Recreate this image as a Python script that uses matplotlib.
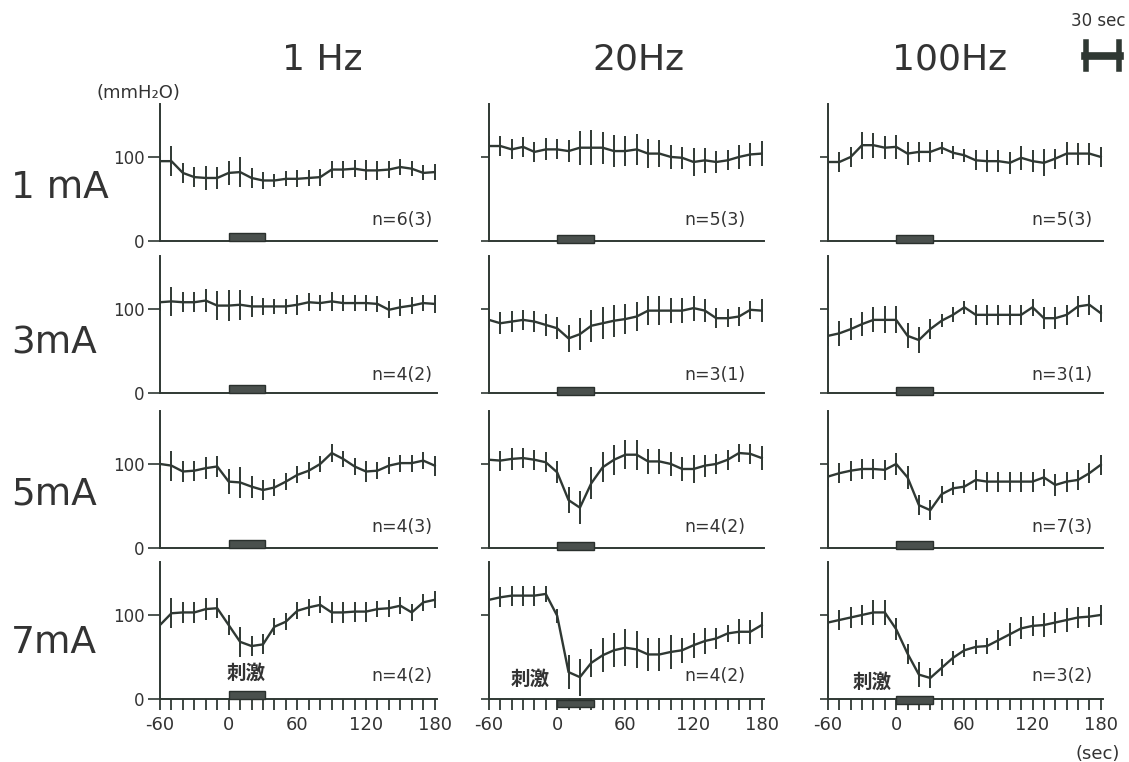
"""
Pressao (mmH2O) durante estimulacao: 4 correntes x 3 frequencias.
Media +- erro a cada 10 s, barra preta = periodo de estimulo (0-30 s).
"""

import matplotlib
matplotlib.use("Agg")
import matplotlib.pyplot as plt
from matplotlib.patches import Rectangle
from matplotlib.lines import Line2D

plt.rcParams["font.family"] = ["DejaVu Sans", "Noto Sans CJK JP"]
plt.rcParams["axes.unicode_minus"] = False

COR = "#2f3833"

tempo = [-60, -50, -40, -30, -20, -10, 0, 10, 20, 30, 40, 50, 60,
         70, 80, 90, 100, 110, 120, 130, 140, 150, 160, 170, 180]

frequencias = ["1 Hz", "20Hz", "100Hz"]
correntes = ["1 mA", "3mA", "5mA", "7mA"]
n_amostras = [["n=6(3)", "n=5(3)", "n=5(3)"],
              ["n=4(2)", "n=3(1)", "n=3(1)"],
              ["n=4(3)", "n=4(2)", "n=7(3)"],
              ["n=4(2)", "n=4(2)", "n=3(2)"]]

# 1 mA
m_1mA_1Hz = [95, 95, 81, 76, 75, 75, 81, 82, 75, 72, 72, 74, 74,
             75, 76, 85, 85, 86, 84, 84, 85, 88, 86, 81, 82]
e_1mA_1Hz = [10, 18, 12, 12, 14, 13, 14, 18, 12, 10, 8, 9, 10,
             10, 10, 10, 10, 10, 12, 11, 10, 10, 9, 9, 10]
m_1mA_20Hz = [113, 113, 109, 112, 106, 109, 109, 107, 111, 111, 111, 107, 107,
              109, 104, 104, 100, 99, 94, 96, 94, 96, 100, 103, 104]
e_1mA_20Hz = [12, 12, 12, 12, 12, 13, 12, 13, 20, 21, 19, 19, 18,
              18, 17, 16, 14, 13, 17, 15, 13, 12, 14, 14, 15]
m_1mA_100Hz = [94, 94, 100, 114, 114, 111, 112, 104, 106, 106, 111, 105, 102,
               96, 95, 95, 93, 99, 95, 93, 98, 104, 104, 104, 100]
e_1mA_100Hz = [8, 12, 12, 16, 15, 14, 14, 14, 12, 12, 7, 8, 8,
               12, 13, 13, 13, 14, 13, 16, 12, 14, 13, 13, 12]

# 3 mA
m_3mA_1Hz = [108, 109, 108, 108, 110, 104, 104, 105, 103, 103, 103, 103, 105,
             108, 107, 109, 107, 107, 107, 106, 99, 102, 104, 107, 106]
e_3mA_1Hz = [10, 17, 12, 12, 14, 17, 18, 18, 12, 10, 9, 9, 12,
             11, 10, 11, 10, 10, 10, 10, 10, 10, 10, 10, 11]
m_3mA_20Hz = [87, 83, 85, 87, 85, 81, 77, 65, 70, 80, 83, 86, 88,
              91, 98, 98, 98, 98, 101, 98, 89, 89, 91, 99, 98]
e_3mA_20Hz = [10, 13, 12, 12, 12, 13, 13, 16, 19, 19, 19, 19, 18,
              17, 17, 17, 15, 15, 15, 14, 12, 11, 11, 11, 14]
m_3mA_100Hz = [68, 71, 76, 82, 87, 87, 87, 68, 63, 76, 86, 93, 102,
               93, 93, 93, 93, 93, 102, 89, 89, 93, 103, 105, 95]
e_3mA_100Hz = [12, 15, 13, 14, 15, 16, 16, 15, 15, 12, 8, 9, 8,
               12, 12, 12, 12, 12, 10, 13, 13, 12, 12, 12, 10]

# 5 mA
m_5mA_1Hz = [100, 98, 91, 92, 95, 97, 79, 78, 73, 69, 72, 79, 87,
             92, 100, 113, 106, 97, 91, 92, 98, 101, 101, 104, 98]
e_5mA_1Hz = [10, 18, 12, 12, 13, 13, 15, 18, 13, 12, 10, 10, 10,
             10, 10, 11, 10, 10, 13, 10, 10, 10, 10, 10, 12]
m_5mA_20Hz = [105, 104, 106, 107, 105, 102, 90, 57, 48, 77, 96, 105, 111,
              111, 103, 103, 100, 94, 94, 98, 100, 105, 113, 112, 107]
e_5mA_20Hz = [8, 12, 13, 12, 12, 12, 13, 15, 20, 19, 18, 18, 17,
              18, 15, 15, 14, 14, 17, 13, 12, 12, 11, 12, 14]
m_5mA_100Hz = [85, 89, 92, 94, 94, 93, 100, 84, 51, 45, 64, 71, 73,
               81, 79, 79, 79, 79, 79, 84, 75, 79, 81, 89, 99]
e_5mA_100Hz = [12, 12, 12, 12, 12, 12, 13, 14, 12, 12, 10, 8, 8,
               12, 12, 12, 12, 12, 12, 10, 13, 12, 12, 12, 12]

# 7 mA
m_7mA_1Hz = [88, 102, 103, 103, 107, 108, 88, 68, 63, 65, 86, 92, 105,
             109, 112, 103, 103, 104, 104, 107, 108, 111, 103, 115, 118]
e_7mA_1Hz = [18, 18, 12, 12, 13, 12, 12, 18, 12, 12, 10, 10, 10,
             10, 10, 12, 12, 12, 12, 10, 10, 10, 10, 10, 10]
m_7mA_20Hz = [118, 121, 123, 123, 123, 125, 99, 32, 26, 43, 52, 58, 61,
              59, 53, 53, 56, 58, 64, 69, 72, 78, 80, 80, 88]
e_7mA_20Hz = [10, 12, 12, 12, 12, 10, 8, 20, 22, 17, 20, 20, 22,
              22, 20, 20, 20, 15, 15, 15, 12, 10, 15, 14, 15]
m_7mA_100Hz = [91, 94, 97, 100, 103, 103, 83, 54, 29, 25, 37, 49, 58,
               62, 63, 70, 77, 84, 87, 88, 91, 94, 97, 98, 100]
e_7mA_100Hz = [8, 12, 12, 12, 15, 15, 13, 12, 15, 12, 10, 8, 8,
               8, 10, 12, 14, 13, 12, 14, 12, 14, 12, 12, 12]

medias = [[m_1mA_1Hz, m_1mA_20Hz, m_1mA_100Hz],
          [m_3mA_1Hz, m_3mA_20Hz, m_3mA_100Hz],
          [m_5mA_1Hz, m_5mA_20Hz, m_5mA_100Hz],
          [m_7mA_1Hz, m_7mA_20Hz, m_7mA_100Hz]]
erros = [[e_1mA_1Hz, e_1mA_20Hz, e_1mA_100Hz],
         [e_3mA_1Hz, e_3mA_20Hz, e_3mA_100Hz],
         [e_5mA_1Hz, e_5mA_20Hz, e_5mA_100Hz],
         [e_7mA_1Hz, e_7mA_20Hz, e_7mA_100Hz]]

# posicoes em pixel da figura original (1129x762)
W, H = 1129, 762
col_x0 = [160, 489, 828]
col_w = [277, 275, 275]
lin_y0 = [241, 393, 548, 699]
alt = 137
# base vertical da barra de estimulo em cada painel
base_barra = [[0, -2, -2], [0, -2, -2], [0, -2, -1], [0, -10, -6]]
n_x = [178, 166, 173]
n_y = [25, 21, 25, 27]
estimulo_pos = [(15, 31), (-24, 23), (-21, 20)]


def painel(ax, i, j):
    ax.errorbar(tempo, medias[i][j], yerr=erros[i][j], color=COR, lw=1.7,
                elinewidth=1.4, capsize=0, zorder=3)
    ax.add_patch(Rectangle((0, base_barra[i][j]), 32, 9, facecolor="#4a504d",
                           edgecolor="#2a302d", lw=1, clip_on=False, zorder=4))
    ax.set_xlim(-60, 182)
    ax.set_ylim(0, 163)
    for s in ("top", "right"):
        ax.spines[s].set_visible(False)
    for s in ("left", "bottom"):
        ax.spines[s].set_color(COR)
        ax.spines[s].set_linewidth(1.4)
    ax.set_yticks([0, 100])
    if j == 0:
        ax.tick_params(axis="y", length=9, width=1.2, color=COR,
                       labelsize=12, labelcolor="#333333", pad=2)
    else:
        ax.tick_params(axis="y", length=6, width=1.2, color=COR, labelleft=False)
    if i == 3:
        ax.set_xticks([-60, 0, 60, 120, 180])
        ax.set_xticks(tempo, minor=True)
        ax.tick_params(axis="x", which="both", length=8, width=1.3, color=COR,
                       labelsize=13, labelcolor="#333333", pad=4)
        ex, ey = estimulo_pos[j]
        ax.text(ex, ey, "刺激", ha="center", va="center", fontsize=14,
                fontweight="bold", color="#333333",
                family=["Noto Sans CJK JP", "DejaVu Sans"])
    else:
        ax.set_xticks([])
    ax.text(n_x[j], n_y[i], n_amostras[i][j], ha="right", va="center",
            fontsize=12.5, color="#333333")
    ax.patch.set_alpha(0)


fig = plt.figure(figsize=(W / 100, H / 100), dpi=100)

for i in range(4):
    for j in range(3):
        ax = fig.add_axes([col_x0[j] / W, 1 - lin_y0[i] / H, col_w[j] / W, alt / H])
        painel(ax, i, j)

# titulos das colunas e linhas
for txt, x in zip(frequencias, [322, 638, 950]):
    fig.text(x / W, 1 - 60 / H, txt, ha="center", va="center", fontsize=26,
             color="#333333")
for txt, y in zip(correntes, [188, 343, 495, 643]):
    fig.text(11 / W, 1 - y / H, txt, ha="left", va="center", fontsize=27,
             color="#333333")

fig.text(96 / W, 1 - 93 / H, "(mmH₂O)", ha="left", va="center", fontsize=13,
         color="#333333")
fig.text(1098 / W, 1 - 754 / H, "(sec)", ha="center", va="center", fontsize=13,
         color="#333333")

# barra de escala de 30 s
fig.text(1098 / W, 1 - 21 / H, "30 sec", ha="center", va="center", fontsize=12,
         color="#333333")
fig.add_artist(Line2D([1085 / W, 1120 / W], [1 - 56 / H, 1 - 56 / H],
                      color=COR, lw=5.5))
for xb in (1086, 1119):
    fig.add_artist(Line2D([xb / W, xb / W], [1 - 42 / H, 1 - 69 / H],
                          color=COR, lw=4))

plt.savefig("out.png", dpi=100)
plt.close()
